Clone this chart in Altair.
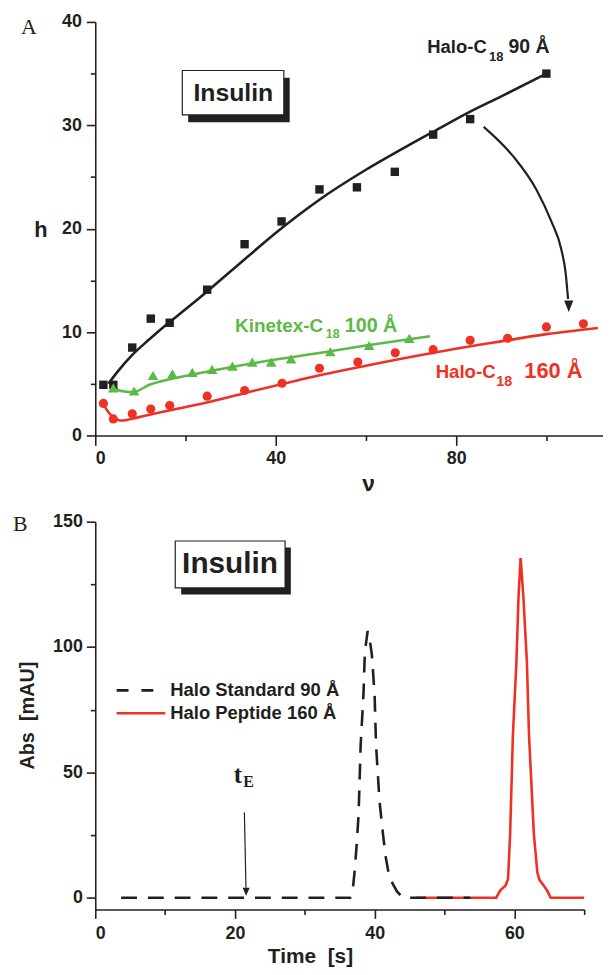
import altair as alt
import pandas as pd

FONT = "Liberation Sans"
SERIF = "Liberation Serif"
BLACK = "#231f20"
RED = "#ee3124"
GREEN = "#5cb947"

# ---------------- Panel A data ----------------
nu_black = [1.8, 4.0, 8.2, 12.3, 16.5, 24.8, 33.1, 41.3, 49.7, 58.0, 66.4, 74.9, 83.1, 100.0]
h_black = [4.9, 4.9, 8.5, 11.3, 10.9, 14.1, 18.5, 20.7, 23.8, 24.0, 25.5, 29.1, 30.6, 35.0]

nu_green = [4.0, 8.6, 12.8, 17.1, 21.5, 25.9, 30.4, 34.8, 39.0, 43.4, 52.1, 60.7, 69.6]
h_green = [4.6, 4.3, 5.8, 5.95, 6.1, 6.4, 6.7, 7.1, 7.1, 7.4, 8.1, 8.7, 9.4]

nu_red = [1.8, 4.0, 8.2, 12.3, 16.5, 24.8, 33.1, 41.4, 49.7, 58.2, 66.5, 74.9, 83.1, 91.4, 100.0, 108.2]
h_red = [3.1, 1.6, 2.1, 2.55, 2.9, 3.8, 4.35, 5.05, 6.5, 7.1, 8.0, 8.3, 9.2, 9.4, 10.5, 10.8]

fit_black_nu = [2.9, 5, 8, 12, 16, 20, 25, 33, 40.6, 45, 50, 60, 70, 75, 83, 90, 100]
fit_black_h = [5.0, 6.2, 7.7, 9.3, 10.8, 12.2, 14.0, 17.0, 19.8, 21.3, 22.9, 25.7, 28.2, 29.4, 31.3, 32.8, 35.0]

fit_green_nu = [3.3, 5.0, 6.6, 8.4, 12, 20, 30, 40, 50, 60, 74.2]
fit_green_h = [4.9, 4.4, 4.25, 4.2, 4.9, 5.75, 6.6, 7.35, 8.0, 8.7, 9.6]

fit_red_nu = [1.8, 3.0, 4.5, 5.5, 7.0, 9, 15, 25, 35, 45, 50, 60, 75, 90, 100, 111.4]
fit_red_h = [3.0, 2.2, 1.6, 1.45, 1.5, 1.7, 2.3, 3.2, 4.3, 5.35, 5.85, 6.75, 8.0, 9.1, 9.8, 10.4]

# curved arrow (Halo 90 -> Halo 160)
arrow_nu = [86.1, 92.7, 97.8, 101.1, 103.3, 104.3, 104.8]
arrow_h = [29.85, 26.97, 23.77, 20.7, 18.01, 15.61, 13.2]

# ---------------- Panel B data ----------------
t_std = [3.7, 36.5, 36.8, 37.1, 37.4, 37.7, 38.0, 38.4, 38.6, 39.0, 39.3, 39.6, 40.0, 40.2, 40.7,
         41.2, 41.6, 42.1, 42.6, 43.2, 44.0, 53.7]
a_std = [0, 0, 1.5, 9.5, 20, 33, 61, 81, 98, 106.4, 103, 97, 80.7, 61, 38.5,
         25.3, 16, 8.3, 5.5, 2.5, 0, 0]

t_pep = [45.9, 57.4, 58.0, 58.75, 59.1, 59.4, 59.8, 60.3, 60.6, 60.9, 61.3, 61.8, 62.1, 62.8,
         63.3, 63.6, 64.2, 64.7, 65.2, 70.0]
a_pep = [0, 0, 2.9, 4.9, 7.5, 25.3, 65, 94, 120, 135.5, 120, 94, 65, 25.3,
         10, 7.1, 4.9, 2.9, 0, 0]

# ---------------- helpers ----------------
def df(**cols):
    return pd.DataFrame(cols)

axis_style = dict(domainColor=BLACK, domainWidth=1.6, tickColor=BLACK, tickWidth=1.6,
                  labelFont=FONT, labelFontWeight="bold", labelFontSize=18, labelColor=BLACK,
                  titleFont=FONT, titleFontWeight="bold", titleColor=BLACK, grid=False)

xA_scale = alt.Scale(domain=[0, 112.55], nice=False, zero=False)
yA_scale = alt.Scale(domain=[0, 40], nice=False, zero=False)

axA_x = alt.Axis(values=[0, 20, 40, 60, 80, 100],
                 labelExpr="datum.value % 40 === 0 ? datum.label : ''",
                 tickSize={"condition": {"test": "datum.value % 40 === 0", "value": 10}, "value": 5},
                 labelPadding=4, title="ν", titleFontSize=23, titleX=275, titleY=49,
                 titleAlign="center", titleBaseline="middle", **axis_style)
axA_y = alt.Axis(values=[0, 5, 10, 15, 20, 25, 30, 35, 40],
                 labelExpr="datum.value % 10 === 0 ? datum.label : ''",
                 tickSize={"condition": {"test": "datum.value % 10 === 0", "value": 9}, "value": 5},
                 labelPadding=5, title="h", titleFontSize=22, titleAngle=0, titleX=-62, titleY=209,
                 titleAlign="left", titleBaseline="middle", **axis_style)

XA = alt.X("x:Q", scale=xA_scale, axis=axA_x)
YA = alt.Y("y:Q", scale=yA_scale, axis=axA_y)
XA2 = alt.X2("x2:Q")
YA2 = alt.Y2("y2:Q")

def lineA(xs, ys, color, width=2.6):
    return alt.Chart(df(x=xs, y=ys)).mark_line(
        color=color, strokeWidth=width, interpolate="monotone").encode(x=XA, y=YA)

fitB = lineA(fit_black_nu, fit_black_h, BLACK)
fitG = lineA(fit_green_nu, fit_green_h, GREEN)
fitR = lineA(fit_red_nu, fit_red_h, RED)

ptsB = alt.Chart(df(x=nu_black, y=h_black)).mark_point(
    shape="square", filled=True, size=72, color=BLACK, opacity=1).encode(x=XA, y=YA)
ptsG = alt.Chart(df(x=nu_green, y=h_green)).mark_point(
    shape="triangle-up", filled=True, size=115, color=GREEN, opacity=1).encode(x=XA, y=YA)
ptsR = alt.Chart(df(x=nu_red, y=h_red)).mark_point(
    shape="circle", filled=True, size=85, color=RED, opacity=1).encode(x=XA, y=YA)

arrowA = alt.Chart(df(x=arrow_nu, y=arrow_h)).mark_line(
    color=BLACK, strokeWidth=2.2, interpolate="monotone").encode(x=XA, y=YA)
arrowA_head = alt.Chart(df(x=[104.95], y=[12.5])).mark_point(
    shape="M-0.8,-1L0.8,-1L0,1Z", filled=True, size=134, color=BLACK, opacity=1).encode(x=XA, y=YA)

labelsA = df(
    x=[73.6, 87.3, 91.6, 31.0, 51.1, 55.3, 75.45, 88.9, 95.1],
    y=[37.0, 36.25, 37.0, 10.02, 9.44, 10.02, 5.60, 4.74, 5.60],
    text=["Halo-C", "18", "90 Å", "Kinetex-C", "18", "100 Å", "Halo-C", "18", "160 Å"],
    fs=[18.6, 13, 19.6, 19, 12.5, 19.9, 18.8, 14.5, 22],
    col=[BLACK, BLACK, BLACK, GREEN, GREEN, GREEN, RED, RED, RED],
)
textA = alt.Chart(labelsA).mark_text(font=FONT, fontWeight="bold", align="left",
                                     baseline="alphabetic").encode(
    x=XA, y=YA, text="text:N",
    size=alt.Size("fs:Q", scale=None, legend=None),
    color=alt.Color("col:N", scale=None, legend=None))

boxA_shadow = alt.Chart(df(x=[20.6], x2=[43.1], y=[34.6], y2=[30.3])).mark_rect(
    color=BLACK).encode(x=XA, x2=XA2, y=YA, y2=YA2)
boxA = alt.Chart(df(x=[19.3], x2=[41.8], y=[35.3], y2=[31.0])).mark_rect(
    fill="white", stroke=BLACK, strokeWidth=1.2).encode(x=XA, x2=XA2, y=YA, y2=YA2)
insA = alt.Chart(df(x=[30.6], y=[33.1], text=["Insulin"])).mark_text(
    font=FONT, fontWeight="bold", fontSize=25, color=BLACK, align="center",
    baseline="middle").encode(x=XA, y=YA, text="text:N")
letterA = alt.Chart(df(text=["A"])).mark_text(
    font=SERIF, fontSize=22, color=BLACK, align="left", baseline="alphabetic").encode(
    x=alt.value(-75), y=alt.value(12.5), text="text:N")

panelA = alt.layer(fitB, fitG, fitR, ptsB, ptsG, ptsR, arrowA, arrowA_head, textA,
                   boxA_shadow, boxA, insA, letterA).properties(width=512, height=417)

# ---------------- Panel B ----------------
xB_scale = alt.Scale(domain=[0, 70], nice=False, zero=False)
yB_scale = alt.Scale(domain=[-4.7, 150], nice=False, zero=False)

axB_x = alt.Axis(values=[0, 10, 20, 30, 40, 50, 60, 70],
                 labelExpr="datum.value % 20 === 0 ? datum.label : ''",
                 tickSize={"condition": {"test": "datum.value % 20 === 0", "value": 9}, "value": 5},
                 labelPadding=6, title="Time\u00a0 [s]", titleFontSize=21, titleX=216.5, titleY=47,
                 titleAlign="center", titleBaseline="middle", **axis_style)
axB_y = alt.Axis(values=[0, 25, 50, 75, 100, 125, 150],
                 labelExpr="datum.value % 50 === 0 ? datum.label : ''",
                 tickSize={"condition": {"test": "datum.value % 50 === 0", "value": 9}, "value": 5},
                 labelPadding=4, title="Abs\u00a0 [mAU]", titleFontSize=20, titleAngle=270,
                 titleX=-68, titleY=195, titleAlign="center", titleBaseline="middle", **axis_style)

XB = alt.X("x:Q", scale=xB_scale, axis=axB_x)
YB = alt.Y("y:Q", scale=yB_scale, axis=axB_y)
XB2 = alt.X2("x2:Q")
YB2 = alt.Y2("y2:Q")

pep = alt.Chart(df(x=t_pep, y=a_pep)).mark_line(color=RED, strokeWidth=2.6).encode(x=XB, y=YB)
std = alt.Chart(df(x=t_std, y=a_std)).mark_line(
    color=BLACK, strokeWidth=2.6, strokeDash=[16, 11]).encode(x=XB, y=YB)

leg_std = alt.Chart(df(x=[3.06, 10.03], y=[82.7, 82.7])).mark_line(
    color=BLACK, strokeWidth=2.6, strokeDash=[12, 13]).encode(x=XB, y=YB)
leg_pep = alt.Chart(df(x=[3.06, 10.03], y=[73.6, 73.6])).mark_line(
    color=RED, strokeWidth=2.6).encode(x=XB, y=YB)
leg_text = alt.Chart(df(x=[10.73, 10.73], y=[82.7, 73.6],
                        text=["Halo Standard 90 Å", "Halo Peptide 160 Å"])).mark_text(
    font=FONT, fontWeight="bold", fontSize=18.6, color=BLACK, align="left",
    baseline="middle").encode(x=XB, y=YB, text="text:N")

boxB_shadow = alt.Chart(df(x=[12.3], x2=[28.0], y=[139.7], y2=[121.0])).mark_rect(
    color=BLACK).encode(x=XB, x2=XB2, y=YB, y2=YB2)
boxB = alt.Chart(df(x=[11.45], x2=[27.18], y=[142.3], y2=[123.6])).mark_rect(
    fill="white", stroke=BLACK, strokeWidth=1.2).encode(x=XB, x2=XB2, y=YB, y2=YB2)
insB = alt.Chart(df(x=[19.3], y=[133.0], text=["Insulin"])).mark_text(
    font=FONT, fontWeight="bold", fontSize=30, color=BLACK, align="center",
    baseline="middle").encode(x=XB, y=YB, text="text:N")

tE = alt.Chart(df(x=[19.83, 21.18], y=[45.9, 44.2], text=["t", "E"], fs=[25, 16])).mark_text(
    font=SERIF, fontWeight="bold", color=BLACK, align="left", baseline="alphabetic").encode(
    x=XB, y=YB, text="text:N", size=alt.Size("fs:Q", scale=None, legend=None))
tE_line = alt.Chart(df(x=[21.35, 21.58], y=[34.0, 4.0])).mark_line(
    color=BLACK, strokeWidth=1.2).encode(x=XB, y=YB)
tE_head = alt.Chart(df(x=[21.6], y=[2.4])).mark_point(
    shape="M-0.9,-1L0.9,-1L0,1Z", filled=True, size=64, color=BLACK, opacity=1).encode(x=XB, y=YB)
letterB = alt.Chart(df(text=["B"])).mark_text(
    font=SERIF, fontSize=22, color=BLACK, align="left", baseline="alphabetic").encode(
    x=alt.value(-83), y=alt.value(9), text="text:N")

panelB = alt.layer(pep, std, leg_std, leg_pep, leg_text, boxB_shadow, boxB, insB,
                   tE, tE_line, tE_head, letterB).properties(width=493, height=391)

chart = alt.vconcat(panelA, panelB, spacing=87, bounds="flush").properties(
    padding={"left": 5, "top": 1, "right": 0, "bottom": 0}
).configure_view(stroke=None)

chart.save("out.html", embed_options={"renderer": "svg", "actions": False})
